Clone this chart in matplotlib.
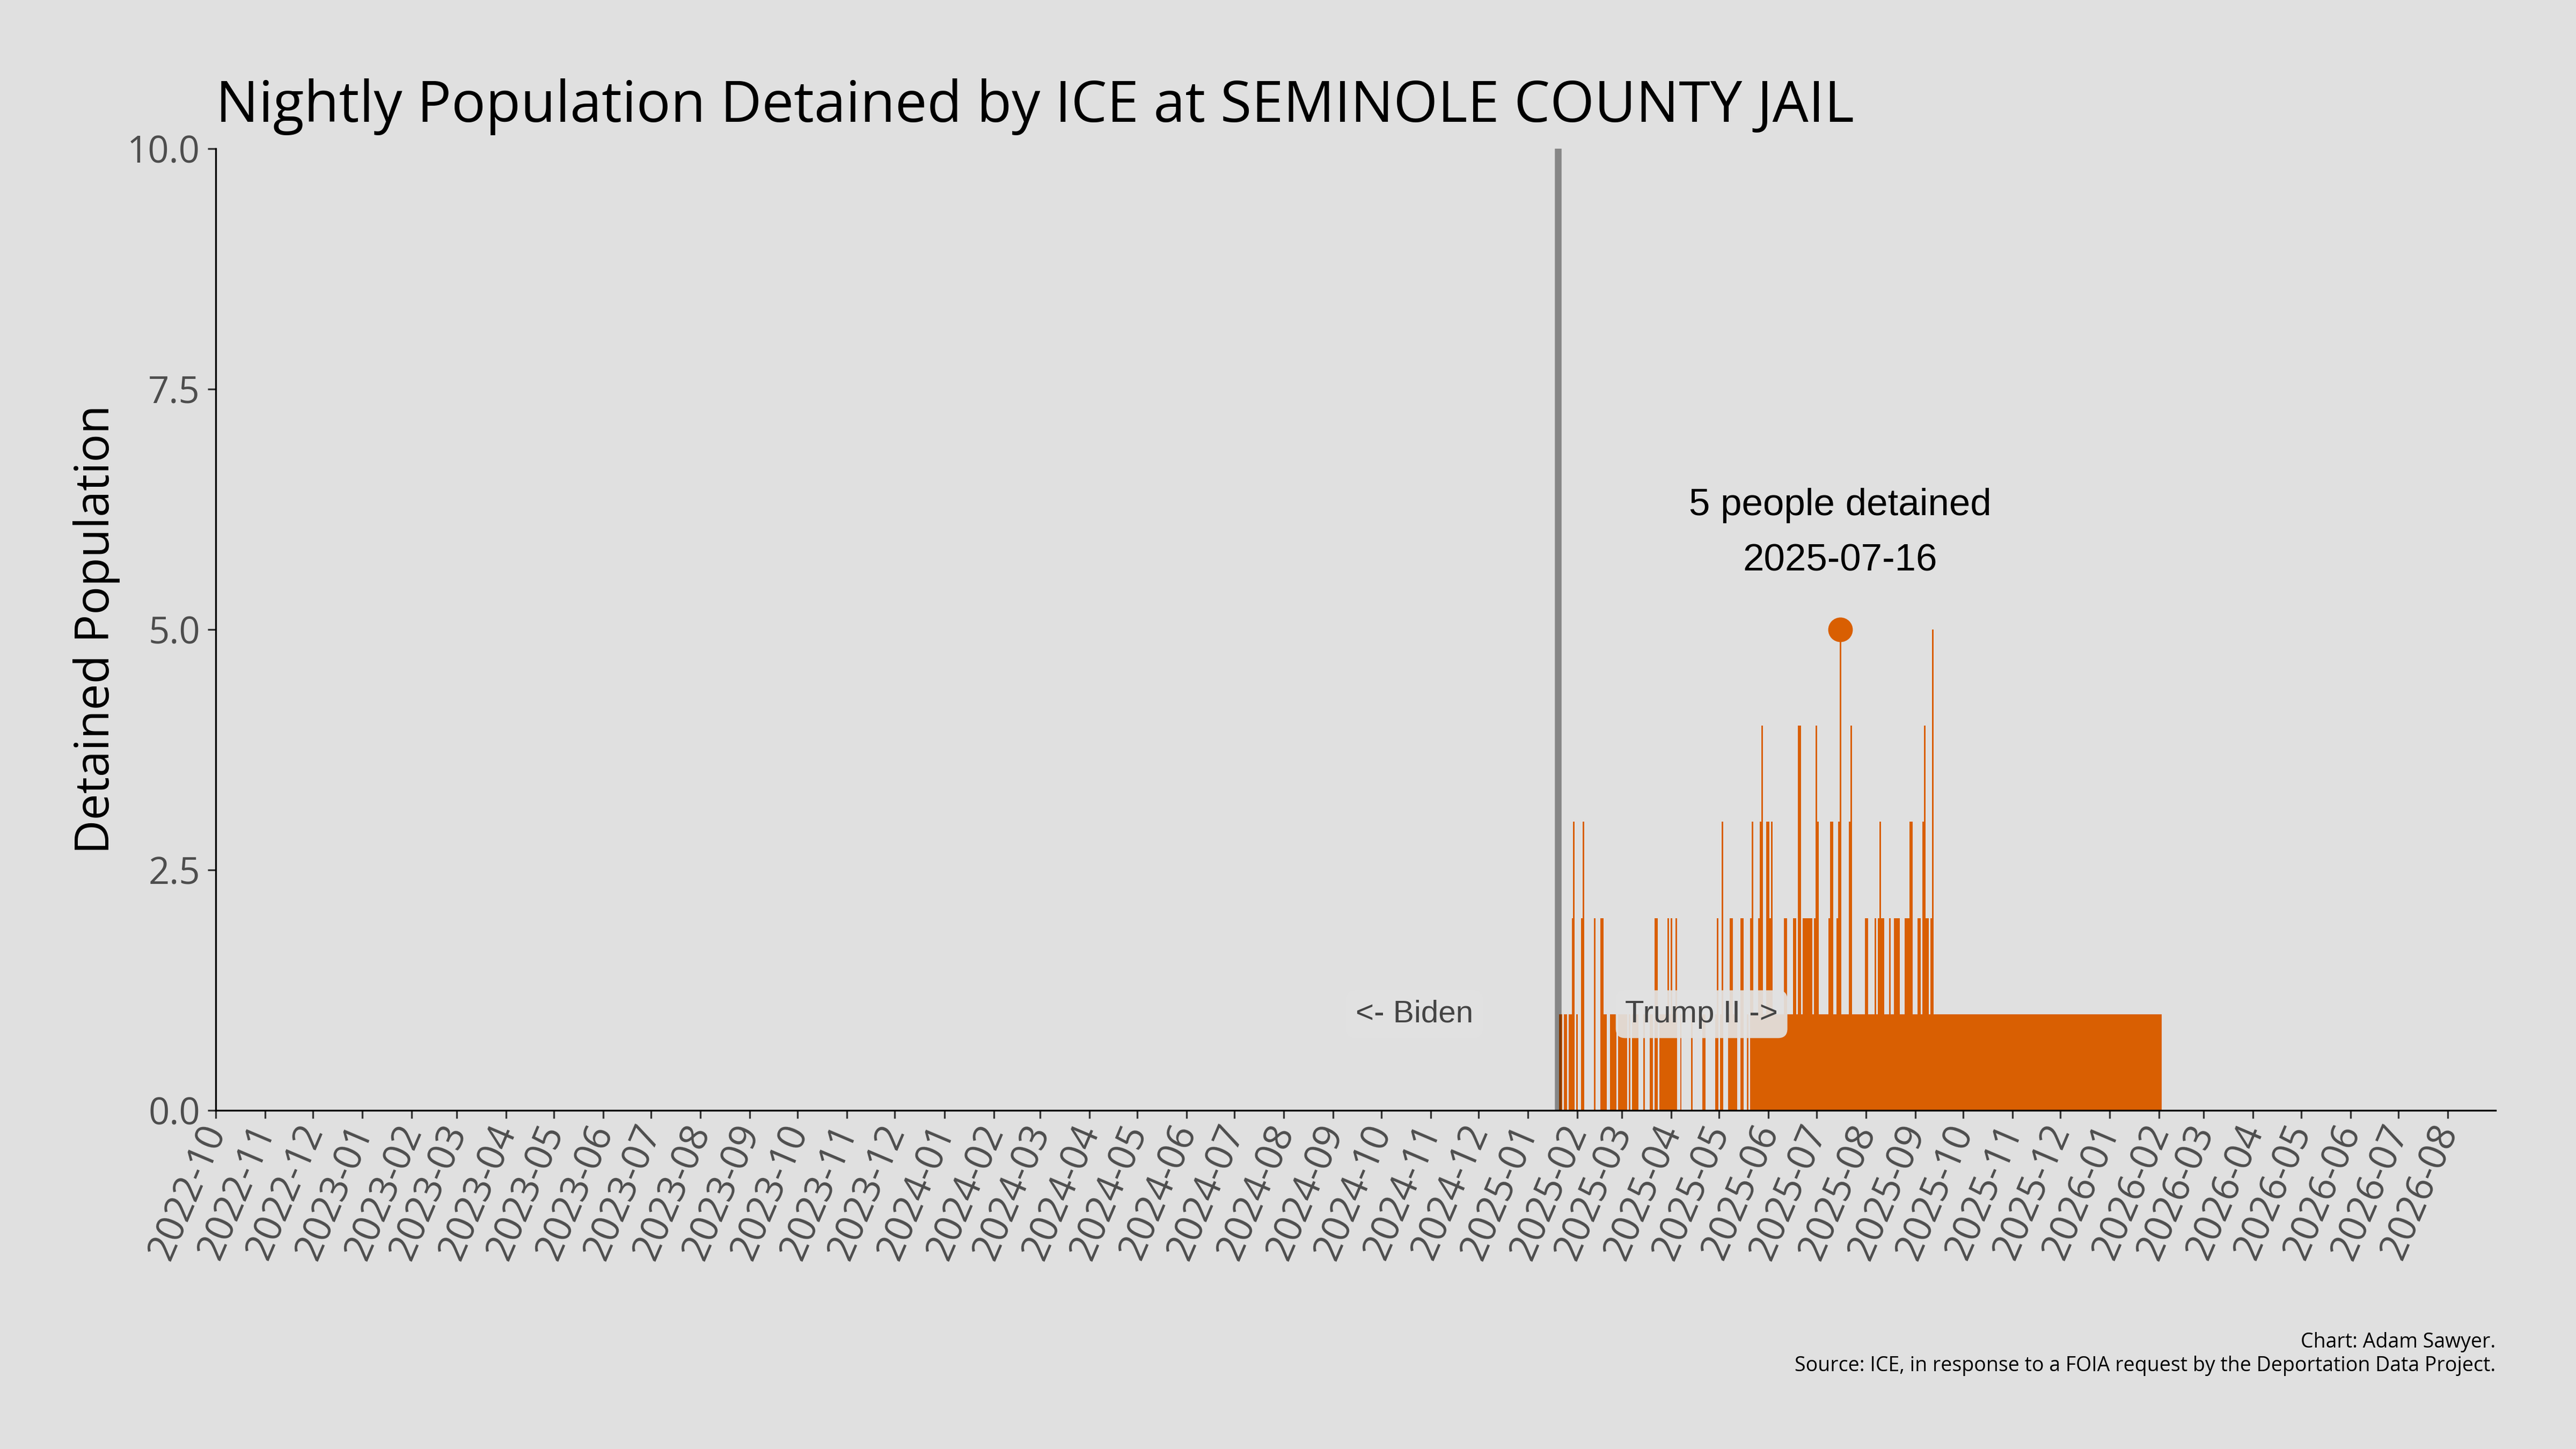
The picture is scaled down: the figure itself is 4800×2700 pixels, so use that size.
import numpy as np
import pandas as pd
import matplotlib
matplotlib.use('Agg')
import matplotlib.pyplot as plt
import matplotlib.dates as mdates
from matplotlib.ticker import FormatStrFormatter

# nightly counts (value, number of nights)
first_night = '2025-01-21'
run_values = [1, 0, 1, 0, 1, 2, 3, 0, 1, 0, 2, 3, 0, 2, 0, 2, 1, 0, 1, 0,
              1, 0, 1, 0, 1, 0, 1, 0, 1, 0, 2, 0, 1, 2, 1, 2, 1, 2, 0, 1,
              0, 1, 0, 1, 0, 1, 2, 0, 1, 3, 0, 1, 2, 1, 0, 2, 0, 1, 0, 2,
              3, 1, 2, 3, 4, 1, 3, 2, 3, 1, 2, 1, 2, 1, 4, 1, 2, 1, 2, 4,
              3, 1, 2, 3, 1, 2, 3, 5, 1, 3, 4, 1, 2, 1, 2, 1, 2, 3, 2, 1,
              2, 1, 2, 1, 2, 3, 1, 2, 1, 3, 4, 2, 1, 2, 5, 1]
run_lengths = [2, 1, 2, 1, 2, 1, 1, 1, 1, 2, 1, 1, 6, 1, 3, 2, 2, 2, 4, 1,
               6, 1, 1, 1, 4, 3, 1, 3, 2, 1, 2, 1, 5, 1, 1, 1, 2, 1, 2, 1,
               6, 1, 6, 2, 6, 1, 1, 1, 1, 1, 3, 1, 2, 3, 2, 2, 2, 1, 1, 1,
               1, 3, 1, 1, 1, 2, 2, 1, 1, 7, 2, 4, 2, 1, 2, 1, 6, 1, 1, 1,
               1, 6, 1, 2, 2, 1, 1, 1, 5, 1, 1, 8, 2, 4, 1, 1, 1, 1, 2, 3,
               1, 2, 4, 3, 3, 2, 3, 2, 1, 1, 1, 2, 1, 1, 1, 143]

inauguration = '2025-01-20'
x_start, x_end = '2022-10-01', '2026-08-31'

values = np.repeat(run_values, run_lengths)
nights = pd.date_range(first_night, periods=len(values), freq='D')

orange = '#d95f02'
bg = '#e0e0e0'

plt.rcParams['font.family'] = ['Open Sans', 'DejaVu Sans']

fig, ax = plt.subplots(figsize=(16, 9), dpi=300)
fig.patch.set_facecolor(bg)
ax.set_facecolor(bg)
fig.subplots_adjust(left=0.08375, right=0.96875, bottom=0.2337, top=0.8974)

ax.bar(nights, values, width=1, color=orange, linewidth=0)

# peak night
peak = int(values.argmax())
ax.plot(nights[peak], values[peak], 'o', color=orange, markersize=10)
ax.text(nights[peak], values[peak] + 1,
        f'{values[peak]} people detained\n{nights[peak]:%Y-%m-%d}',
        ha='center', va='center', fontsize=17, family='Liberation Sans',
        linespacing=1.75)

# administration change
line_day = pd.Timestamp(inauguration)
ax.axvline(line_day, color='black', alpha=0.4, linewidth=3, zorder=3)
box = dict(boxstyle='round,pad=0.3', facecolor='#e2e2e2', edgecolor='none', alpha=0.92)
ax.text(line_day - pd.Timedelta(days=90), 1, '<- Biden', ha='center', va='center',
        fontsize=14, family='Liberation Sans', color='#444444', bbox=box, zorder=4)
ax.text(line_day + pd.Timedelta(days=90), 1, 'Trump II ->', ha='center', va='center',
        fontsize=14, family='Liberation Sans', color='#444444', bbox=box, zorder=4)

ax.set_xlim(pd.Timestamp(x_start), pd.Timestamp(x_end))
ax.set_ylim(0, 10)
ax.set_yticks([0, 2.5, 5, 7.5, 10])
ax.yaxis.set_major_formatter(FormatStrFormatter('%.1f'))
ax.xaxis.set_major_locator(mdates.MonthLocator())
ax.xaxis.set_major_formatter(mdates.DateFormatter('%Y-%m'))
ax.tick_params(colors='#333333', labelcolor='#4d4d4d', labelsize=17)
ax.tick_params(axis='y', labelsize=16.5)
plt.setp(ax.get_xticklabels(), rotation=67, ha='right', va='center',
         rotation_mode='anchor')

for side in ['top', 'right']:
    ax.spines[side].set_visible(False)

ax.set_ylabel('Detained Population', fontsize=21, labelpad=3)
ax.set_title('Nightly Population Detained by ICE at SEMINOLE COUNTY JAIL',
             loc='left', fontsize=25.5, pad=12)

fig.text(0.96875, 0.0504,
         'Chart: Adam Sawyer.\nSource: ICE, in response to a FOIA request by the Deportation Data Project.',
         ha='right', va='bottom', fontsize=9, multialignment='right')

plt.savefig('out.png', dpi=300, facecolor=bg)
